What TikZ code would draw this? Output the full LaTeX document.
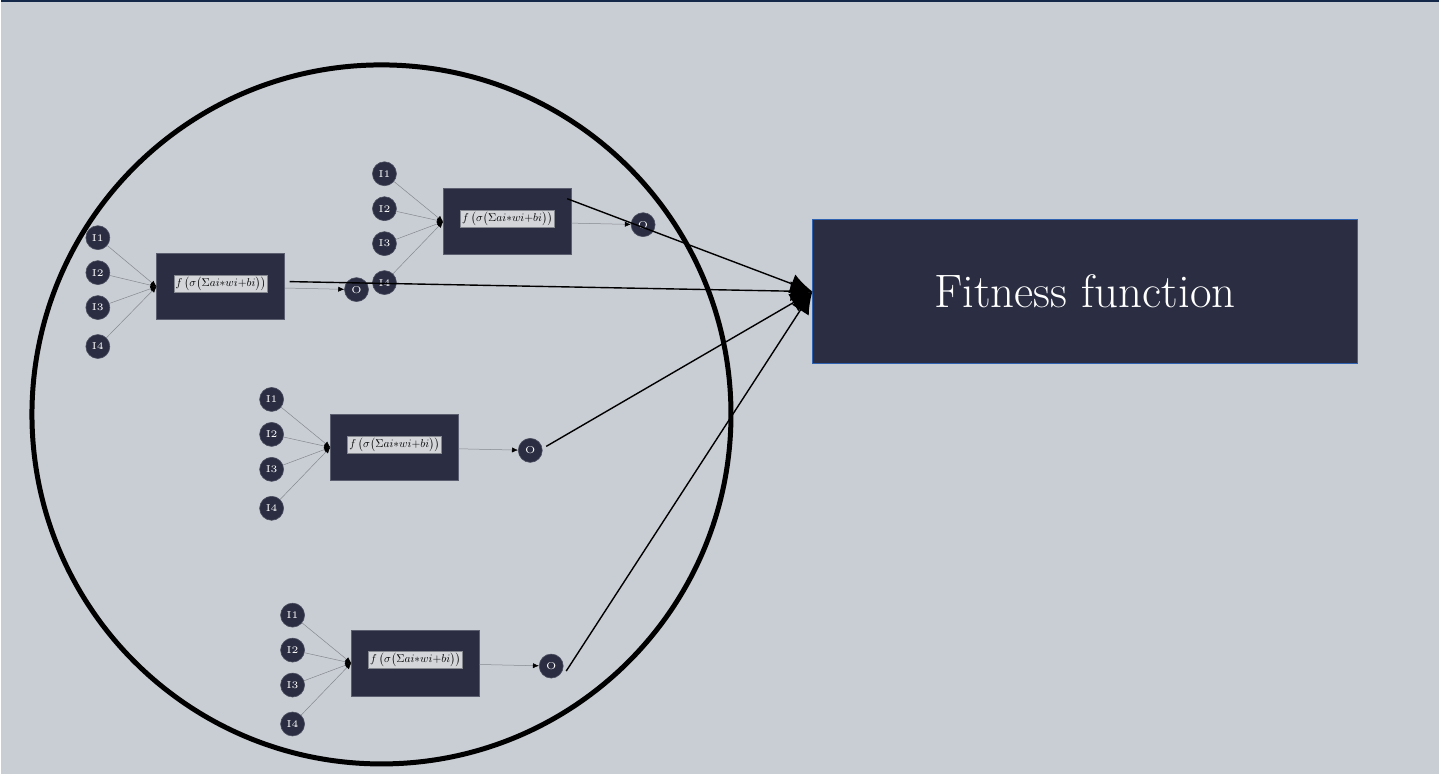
\RequirePackage{fix-cm}
\documentclass[tikz,border=0pt]{standalone}
\usetikzlibrary{arrows.meta}
\definecolor{netnavy}{HTML}{2B2E42}
\definecolor{paper}{HTML}{C9CDD4}
\definecolor{edgegray}{HTML}{85888F}
\definecolor{rimblue}{HTML}{2F62B0}
\definecolor{labelgray}{HTML}{D3D5D9}
\definecolor{topline}{HTML}{14284A}
\tikzset{
every picture/.style={
line width=0.3pt
},
inode/.style={circle, fill=netnavy, draw=netnavy!80!paper, minimum size=12pt, inner sep=0pt,
  text=white, font=\fontsize{5}{6}\selectfont},
neuron/.style={rectangle, fill=netnavy, draw=netnavy!70!paper, minimum width=64pt, minimum height=33pt, inner sep=0pt},
formula/.style={fill=labelgray, draw=edgegray, inner sep=0.8pt},
wire/.style={draw=edgegray, line width=0.25pt, -{Latex[length=3pt,width=2.6pt,color=black]}},
tofit/.style={draw=black, line width=0.7pt, -{Latex[length=11pt,width=10pt]}},
fitbox/.style={rectangle, fill=netnavy, draw=rimblue, line width=0.5pt, minimum width=272.5pt, minimum height=72pt,
  text=white, font=\fontsize{23.5}{28}\selectfont}
}
\newcommand{\actfn}{\scalebox{0.57}{$f\,\bigl(\sigma\bigl(\Sigma ai{*}wi{+}bi\bigr)\bigr)$}}

\begin{document}
\begin{tikzpicture}[x=0.5pt,y=-0.5pt]
  \fill[paper] (0,0) rectangle (1440,775);
  \draw[topline, line width=1pt] (0,1) -- (1440,1);
  \draw[line width=2.5pt] (381,415) circle[radius=350];

  % the four small networks
  \foreach \k/\ix/\iy/\bx/\by/\ox/\oy in {1/97/238/220/287/356/290, 2/384/174/507/222/643/225,
      3/271/400/394/448/530/451, 4/292/616/415/664/551/667}{
    \node[neuron] (box\k) at (\bx,\by) {};
    \node[formula] (fx\k) at ([yshift=1.5pt]box\k.center) {\actfn};
    \node[inode] (out\k) at (\ox,\oy) {O};
    \draw[wire] (box\k) -- (out\k);
    \foreach \j/\dy in {1/0,2/35,3/70,4/109}{
      \node[inode] (in\k\j) at (\ix,\iy+\dy) {I\j};
      \draw[wire] (in\k\j) -- (box\k.west);
    }
  }

  \node[fitbox] (fit) at (1085.5,292) {Fitness function};

  \coordinate (tail1) at (289,282);
  \coordinate (tail2) at (567,199);
  \coordinate (tail3) at (546,447);
  \coordinate (tail4) at (566,672);
  \foreach \k in {1,...,4}{
    \draw[tofit] (tail\k) -- (fit.west);
  }
\end{tikzpicture}
\end{document}
